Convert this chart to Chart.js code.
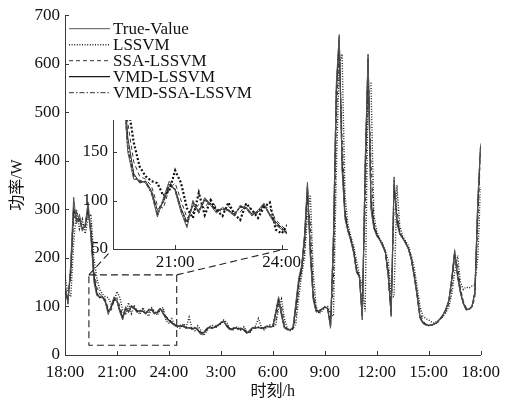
<!DOCTYPE html>
<html><head><meta charset="utf-8">
<script src="https://cdn.jsdelivr.net/npm/chart.js@4/dist/chart.umd.min.js"></script>
<style>
html,body{margin:0;padding:0;background:#fff;}
#wrap{position:relative;width:507px;height:405px;}
canvas{position:absolute;left:0;top:0;}
#inset{pointer-events:none;}
</style></head><body>
<div id="wrap"><canvas id="main" width="507" height="405"></canvas><canvas id="inset" width="507" height="405"></canvas></div>
<script>
// time axis: hours since 18:00 of day one, 10-minute samples
const START_HOUR = 18;
const STEP_HOURS = 1 / 6;
const tickLabels = ['18:00','21:00','24:00','3:00','6:00','9:00','12:00','15:00','18:00'];
const insetTickLabels = {21: '21:00', 24: '24:00'};
const seriesNames = ['True-Value','LSSVM','SSA-LSSVM','VMD-LSSVM','VMD-SSA-LSSVM'];

const trueValue = [150,105,190,325,270,290,255,270,315,240,
150,122,121,118,108,83,102,120,110,88,
72,100,87,103,95,87,93,89,84,95,
92,84,90,97,84,75,70,65,60,58,
62,58,55,57,52,58,50,42,45,55,
58,54,60,62,68,70,58,52,55,57,
52,56,50,44,52,57,55,58,54,57,
60,57,60,90,120,80,55,52,52,58,
110,160,185,250,356,200,113,88,92,95,
100,95,55,250,560,660,380,280,255,235,
210,170,160,72,400,620,300,260,245,237,
225,210,160,79,367,270,248,240,230,218,
195,160,120,75,65,62,60,62,63,68,
75,82,95,113,160,216,160,127,105,92,
95,99,130,319,436];

const lssvm = [160,130,120,230,300,260,280,250,280,290,
200,160,135,125,120,118,105,110,131,118,
92,82,108,85,100,90,84,98,86,80,
97,90,82,93,98,70,66,75,62,57,
55,65,58,78,55,50,60,52,40,48,
57,62,55,60,64,72,68,55,50,58,
57,50,58,48,45,55,60,75,58,52,
58,62,57,62,95,115,75,55,50,54,
65,120,165,200,290,330,170,100,85,90,
97,100,85,80,380,600,620,330,270,245,
225,195,165,140,90,560,560,290,255,240,
230,215,195,120,120,350,265,245,235,225,
205,180,140,100,80,75,72,68,66,70,
74,80,88,100,125,170,205,150,135,140,
138,142,145,200,346];

const ssaLssvm = [130,120,160,280,295,270,270,262,295,270,
180,140,125,122,115,95,92,112,118,100,
82,88,96,92,102,92,88,94,88,88,
96,90,86,94,92,80,74,68,63,60,
58,61,58,56,56,54,56,48,43,50,
56,57,56,62,65,70,64,55,52,56,
56,52,55,47,46,54,57,56,57,54,
58,60,57,70,105,100,62,54,51,53,
80,140,175,215,320,270,135,95,87,93,
98,98,70,150,480,640,450,300,262,242,
220,182,162,100,300,590,400,275,250,240,
229,214,178,95,300,300,255,243,233,222,
200,170,130,88,70,64,62,61,63,66,
72,80,90,106,140,200,185,138,112,97,
93,98,118,270,420];

const vmdLssvm = [140,110,175,300,280,280,260,265,300,250,
165,128,118,120,110,90,98,115,112,92,
78,95,90,100,97,90,91,90,86,93,
93,86,88,95,86,78,72,66,62,59,
60,59,56,56,54,56,52,45,46,53,
57,55,58,61,66,69,60,54,54,56,
54,55,51,46,50,56,56,57,55,56,
59,58,59,85,115,85,58,53,52,56,
100,150,180,240,345,215,120,92,90,94,
99,96,60,230,540,650,400,290,258,238,
214,175,160,80,380,610,320,265,248,238,
226,212,165,85,350,280,250,241,231,219,
197,163,124,78,67,63,61,62,64,68,
75,83,95,112,155,210,165,130,107,94,
95,100,128,305,430];

const vmdSsaLssvm = [145,108,185,315,275,287,258,268,310,245,
155,125,120,119,108,86,100,118,111,90,
75,98,88,102,96,88,92,90,85,94,
92,85,89,96,85,76,71,66,61,58,
61,58,55,57,53,57,51,43,45,54,
58,55,59,62,67,70,59,53,55,57,
53,56,51,45,51,57,55,58,55,57,
60,57,60,88,118,82,56,52,52,57,
106,156,183,246,352,205,116,90,91,95,
100,95,57,245,555,657,385,283,256,236,
211,171,160,75,395,617,305,262,246,237,
225,211,162,80,362,273,249,240,230,218,
196,161,121,76,65,62,60,62,63,68,
75,82,95,113,158,214,162,128,106,93,
95,99,129,315,434];

const allSeries = [trueValue, lssvm, ssaLssvm, vmdLssvm, vmdSsaLssvm];
const toPoints = arr => arr.map((v, i) => ({x: START_HOUR + i * STEP_HOURS, y: v}));

const styles = [
  {color:'#555555', width:1.0, dash:[]},
  {color:'#222222', width:1.4, dash:[1,1.6]},
  {color:'#333333', width:1.0, dash:[4,3]},
  {color:'#1a1a1a', width:1.2, dash:[]},
  {color:'#333333', width:1.0, dash:[5,2,1.5,2]}
];
const insetStyles = [
  {color:'#555555', width:1.0, dash:[]},
  {color:'#111111', width:2.2, dash:[2,2]},
  {color:'#333333', width:1.0, dash:[4,3]},
  {color:'#2a2a2a', width:1.0, dash:[]},
  {color:'#2a2a2a', width:1.6, dash:[4,2,1.5,2]}
];

function makeDatasets(st){
  return allSeries.map((arr, k) => ({
    label: seriesNames[k], data: toPoints(arr),
    borderColor: st[k].color, borderWidth: st[k].width, borderDash: st[k].dash,
    pointRadius: 0, tension: 0, fill: false
  }));
}

const SERIF = '"Liberation Serif","Noto Sans CJK SC",serif';
const AXIS = '#3a3a3a';

const inwardTicks = {
  id: 'inwardTicks',
  afterDraw(chart){
    const ctx = chart.ctx, xs = chart.scales.x, ys = chart.scales.y;
    ctx.save(); ctx.strokeStyle = AXIS; ctx.lineWidth = 1; ctx.setLineDash([]);
    xs.ticks.forEach(t => {
      const px = Math.round(xs.getPixelForValue(t.value)) + 0.5;
      ctx.beginPath(); ctx.moveTo(px, ys.bottom); ctx.lineTo(px, ys.bottom - 4); ctx.stroke();
    });
    ys.ticks.forEach(t => {
      const py = Math.round(ys.getPixelForValue(t.value)) + 0.5;
      ctx.beginPath(); ctx.moveTo(xs.left, py); ctx.lineTo(xs.left + 4, py); ctx.stroke();
    });
    ctx.restore();
  }
};

const legendPlugin = {
  id: 'lineLegend',
  afterDraw(chart){
    const ctx = chart.ctx, a = chart.chartArea;
    ctx.save();
    ctx.font = '17px ' + SERIF; ctx.textBaseline = 'middle'; ctx.fillStyle = '#111';
    seriesNames.forEach((name, k) => {
      const cy = a.top + 13 + k * 16;
      ctx.strokeStyle = styles[k].color; ctx.lineWidth = styles[k].width; ctx.setLineDash(styles[k].dash);
      ctx.beginPath(); ctx.moveTo(a.left + 4, cy + 0.5); ctx.lineTo(a.left + 45, cy + 0.5); ctx.stroke();
      ctx.fillText(name, a.left + 48, cy + 1);
    });
    ctx.restore();
  }
};

const mainChart = new Chart(document.getElementById('main'), {
  type: 'line',
  data: {datasets: makeDatasets(styles)},
  options: {
    responsive: false, animation: false, events: [],
    layout: {padding: {top: 15, right: 25, left: 0, bottom: 0}},
    plugins: {legend: {display: false}, tooltip: {enabled: false}},
    scales: {
      x: {
        type: 'linear', min: 18, max: 42,
        afterFit(s){ s.height = 50; },
        grid: {drawOnChartArea: false, drawTicks: false},
        border: {display: true, color: AXIS, width: 1},
        ticks: {stepSize: 3, padding: 7, color: '#111', font: {family: SERIF, size: 17},
          maxRotation: 0, autoSkip: false,
          callback: v => tickLabels[Math.round((v - 18) / 3)]},
        title: {display: true, text: '时刻/h', color: '#111', font: {family: SERIF, size: 16}, padding: {top: 0, bottom: 4}}
      },
      y: {
        min: 0, max: 700,
        afterFit(s){ s.width = 65; },
        grid: {drawOnChartArea: false, drawTicks: false},
        border: {display: true, color: AXIS, width: 1},
        ticks: {stepSize: 100, padding: 5, color: '#111', font: {family: SERIF, size: 17}},
        title: {display: true, text: '功率/W', color: '#111', font: {family: SERIF, size: 16}, padding: {top: 8, bottom: 0}}
      }
    }
  },
  plugins: [inwardTicks, legendPlugin]
});

// zoom box in data units of the main chart
const zoomBox = {x0: 19.38, x1: 24.45, y0: 20, y1: 165};

const connectorPlugin = {
  id: 'connectors',
  afterDraw(chart){
    const ctx = chart.ctx, a = chart.chartArea;
    const mx = mainChart.scales.x, my = mainChart.scales.y;
    const bx0 = mx.getPixelForValue(zoomBox.x0), bx1 = mx.getPixelForValue(zoomBox.x1);
    const by0 = my.getPixelForValue(zoomBox.y0), by1 = my.getPixelForValue(zoomBox.y1);
    ctx.save(); ctx.strokeStyle = '#222'; ctx.lineWidth = 1.1; ctx.setLineDash([7,4]);
    ctx.strokeRect(bx0, by1, bx1 - bx0, by0 - by1);
    ctx.beginPath(); ctx.moveTo(bx0, by1); ctx.lineTo(a.left - 4, a.bottom + 4); ctx.stroke();
    ctx.beginPath(); ctx.moveTo(bx1, by1); ctx.lineTo(a.right - 6, a.bottom + 1); ctx.stroke();
    ctx.restore();
  }
};

new Chart(document.getElementById('inset'), {
  type: 'line',
  data: {datasets: makeDatasets(insetStyles)},
  options: {
    responsive: false, animation: false, events: [],
    layout: {padding: {top: 120, right: 220, left: 73, bottom: 130}},
    plugins: {legend: {display: false}, tooltip: {enabled: false}},
    scales: {
      x: {
        type: 'linear', min: 19.25, max: 24.15,
        afterFit(s){ s.height = 26; },
        afterBuildTicks(s){ s.ticks = [{value: 21}, {value: 24}]; },
        grid: {drawOnChartArea: false, drawTicks: false},
        border: {display: true, color: AXIS, width: 1},
        ticks: {padding: 3, color: '#111', font: {family: SERIF, size: 17}, maxRotation: 0, autoSkip: false,
          callback: v => insetTickLabels[Math.round(v)]}
      },
      y: {
        min: 50, max: 183,
        afterFit(s){ s.width = 40; },
        afterBuildTicks(s){ s.ticks = [{value: 50}, {value: 100}, {value: 150}]; },
        grid: {drawOnChartArea: false, drawTicks: false},
        border: {display: true, color: AXIS, width: 1},
        ticks: {padding: 5, color: '#111', font: {family: SERIF, size: 17}}
      }
    }
  },
  plugins: [inwardTicks, connectorPlugin]
});
</script></body></html>
